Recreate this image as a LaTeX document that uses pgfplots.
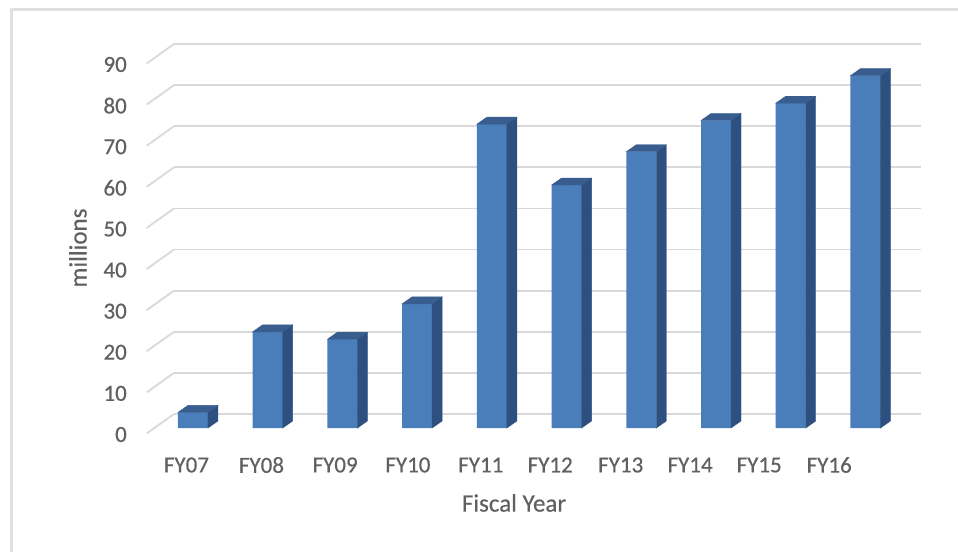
\documentclass[border=0pt]{standalone}
\usepackage{fontspec}
\setmainfont{Carlito}[FakeBold=0.5]
\usepackage{pgfplots}
\usepackage{pgfplotstable}
\pgfplotsset{compat=1.18}

\definecolor{barfront}{RGB}{74,126,187}
\definecolor{barside}{RGB}{45,80,128}
\definecolor{bartop}{RGB}{56,93,142}
\definecolor{gridc}{RGB}{217,217,217}
\definecolor{framec}{RGB}{224,224,224}
\definecolor{textc}{RGB}{96,96,96}

\pgfplotstableread{
idx v
0 3.8
1 23.4
2 21.6
3 30.2
4 73.9
5 59.1
6 67.2
7 74.8
8 79.0
9 85.7
}\spending

\begin{document}
\begin{tikzpicture}
\useasboundingbox (0,0) rectangle (958pt,552pt);
\draw[framec, line width=3pt] (11.5pt,0) -- (11.5pt,542.5pt) -- (958pt,542.5pt);

% back wall with grid lines and the diagonals of the side wall
\begin{axis}[
    at={(174pt,138pt)}, anchor=south west,
    scale only axis, width=747pt, height=370pt,
    xmin=0, xmax=747, ymin=0, ymax=90,
    clip=false,
    axis line style={draw=none},
    major tick length=0pt,
    xtick=\empty,
    ytick={0,10,...,90}, yticklabels={},
    ymajorgrids,
    grid style={gridc, line width=1.8pt},
]
\addplot[gridc, line width=1.8pt, quiver={u=27.3, v=4.74}] coordinates {
    (-27.3,-4.74) (-27.3,5.26) (-27.3,15.26) (-27.3,25.26) (-27.3,35.26)
    (-27.3,45.26) (-27.3,55.26) (-27.3,65.26) (-27.3,75.26) (-27.3,85.26)
};
\end{axis}

% bars (front plane) and labels
\begin{axis}[
    at={(155.6pt,124pt)}, anchor=south west,
    scale only axis, width=747.2pt, height=370pt,
    xmin=-0.5, xmax=9.5, ymin=0, ymax=90,
    clip=false,
    axis line style={draw=none},
    major tick length=0pt,
    xtick={-0.087,0.917,1.903,2.877,3.852,4.781,5.725,6.654,7.578,8.515},
    xticklabels={FY07,FY08,FY09,FY10,FY11,FY12,FY13,FY14,FY15,FY16},
    ytick={0,10,...,90},
    /pgf/number format/assume math mode=true,
    tick label style={font=\fontsize{23}{27}\selectfont, text=textc, inner sep=0pt},
    xticklabel style={anchor=center, yshift=-37pt},
    yticklabel style={anchor=east, xshift=-28.6pt, yshift=-6.5pt},
    xlabel={Fiscal Year},
    ylabel={millions},
    label style={font=\fontsize{25}{30}\selectfont, text=textc},
    xlabel style={at={(axis description cs:0.4797,-0.2027)}, anchor=center},
    ylabel style={at={(axis description cs:-0.1039,0.4865)}, anchor=center, rotate=0},
]
\addplot[ybar, bar width=30pt, fill=barfront, draw=none] table[x=idx, y=v] {\spending};
\addplot[scatter, only marks, mark=*, mark size=0pt,
    mark options={draw=none, fill=none},
    point meta=explicit symbolic,
    scatter/@pre marker code/.code={%
        \fill[barside] (15pt,0pt) -- ++(10pt,7pt) -- ++(axis direction cs:0,-\pgfplotspointmeta)
            -- ++(-10pt,-7pt) -- cycle;
        \fill[bartop] (-15pt,0pt) -- ++(10pt,7pt) -- ++(30pt,0pt) -- (15pt,0pt) -- cycle;
    },
    scatter/@post marker code/.code={},
] table[x=idx, y=v, meta=v] {\spending};
\end{axis}
\end{tikzpicture}
\end{document}
